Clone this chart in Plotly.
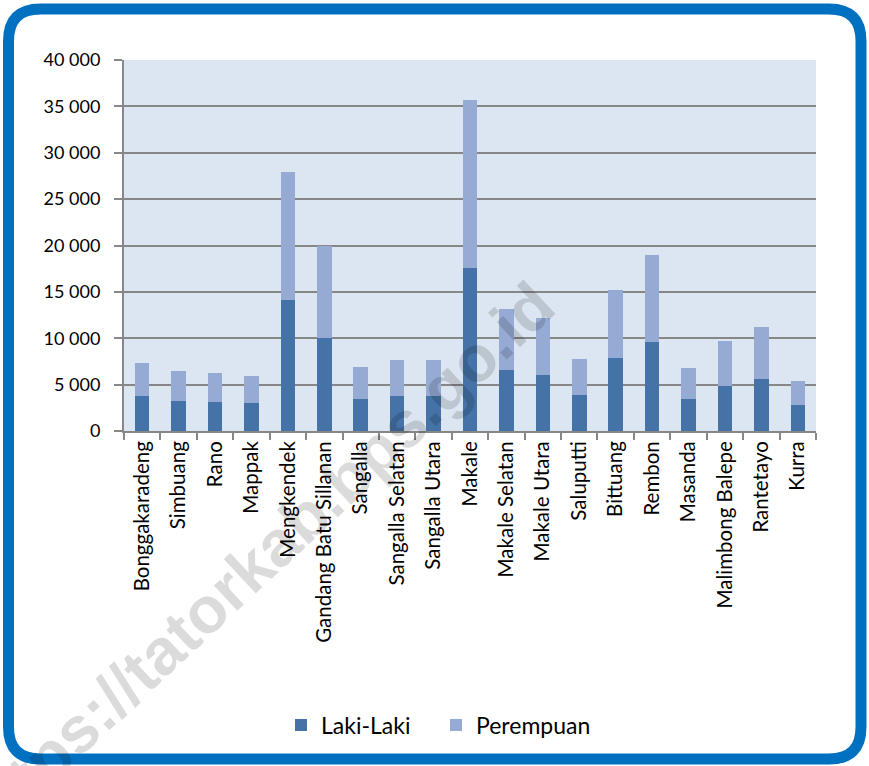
import plotly.graph_objects as go

# data
kecamatan = ['Bonggakaradeng', 'Simbuang', 'Rano', 'Mappak', 'Mengkendek',
             'Gandang Batu Sillanan', 'Sangalla', 'Sangalla Selatan', 'Sangalla Utara',
             'Makale', 'Makale Selatan', 'Makale Utara', 'Saluputti', 'Bittuang',
             'Rembon', 'Masanda', 'Malimbong Balepe', 'Rantetayo', 'Kurra']
laki_laki = [3770, 3230, 3130, 3020, 14090, 9990, 3450, 3770, 3770,
             17570, 6580, 6040, 3850, 7870, 9600, 3450, 4850, 5610, 2800]
perempuan = [3560, 3210, 3160, 2910, 13870, 9990, 3450, 3890, 3880,
             18080, 6540, 6180, 3880, 7330, 9380, 3310, 4890, 5600, 2590]
y_ticks = [0, 5000, 10000, 15000, 20000, 25000, 30000, 35000, 40000]

W, H = 869, 766
L, R, T, B = 124, 816, 60, 431   # plot area in pixels

def px(x):
    return (x - L) / (R - L)

def py(y):
    return (B - y) / (B - T)

def rounded_rect(x0, y0, x1, y1, r):
    return (f"M {px(x0 + r)} {py(y0)} L {px(x1 - r)} {py(y0)} "
            f"Q {px(x1)} {py(y0)} {px(x1)} {py(y0 + r)} "
            f"L {px(x1)} {py(y1 - r)} "
            f"Q {px(x1)} {py(y1)} {px(x1 - r)} {py(y1)} "
            f"L {px(x0 + r)} {py(y1)} "
            f"Q {px(x0)} {py(y1)} {px(x0)} {py(y1 - r)} "
            f"L {px(x0)} {py(y0 + r)} "
            f"Q {px(x0)} {py(y0)} {px(x0 + r)} {py(y0)} Z")

colors = {'laki': '#4572a7', 'perempuan': '#95abd3', 'grid': '#878787'}
label_font = "Lato, 'Open Sans', sans-serif"

fig = go.Figure()
fig.add_trace(go.Bar(x=kecamatan, y=laki_laki, name='Laki-Laki',
                     marker=dict(color=colors['laki'], line_width=0)))
fig.add_trace(go.Bar(x=kecamatan, y=perempuan, name='Perempuan',
                     marker=dict(color=colors['perempuan'], line_width=0)))

fig.update_layout(
    width=W, height=H,
    barmode='stack', bargap=0.6,
    separators='. ',
    paper_bgcolor='white',
    plot_bgcolor='#dce6f2',
    margin=dict(l=L, r=W - R, t=T, b=H - B, autoexpand=False),
    font=dict(family=label_font, color='black'),
    showlegend=True,
    legend=dict(orientation='h', x=px(436), y=py(725), xanchor='center',
                yanchor='middle', font=dict(size=23), itemwidth=30,
                entrywidth=110, traceorder='normal', bgcolor='rgba(0,0,0,0)'),
    xaxis=dict(tickangle=-90, tickfont=dict(size=20.5), ticks='outside',
               tickson='boundaries', ticklen=7, tickcolor=colors['grid'],
               tickwidth=2, showline=True, linecolor=colors['grid'],
               linewidth=2, showgrid=False),
    yaxis=dict(range=[0, 40000], tickvals=y_ticks, tickformat=',',
               tickfont=dict(size=18), ticks='outside', ticklen=8,
               ticklabelstandoff=10,
               tickcolor=colors['grid'], tickwidth=2, showline=True,
               linecolor=colors['grid'], linewidth=2, showgrid=True,
               gridcolor=colors['grid'], gridwidth=2, zeroline=False),
)

# blue rounded frame
fig.add_shape(type='path', xref='paper', yref='paper',
              path=rounded_rect(8.5, 9, 861, 759, 32),
              line=dict(color='#0070c0', width=11), fillcolor='rgba(0,0,0,0)')

# watermark
fig.add_annotation(text='<b>https://tatorkab.bps.go.id</b>', xref='paper', yref='paper',
                   x=px(258), y=py(560), xanchor='center', yanchor='middle',
                   textangle=-43, showarrow=False,
                   font=dict(family='Arial, Liberation Sans, sans-serif', size=65,
                             color='rgba(0,0,0,0.14)'))

fig.write_html("out.html", config={'displayModeBar': False},
               post_script="document.body.style.margin='0';")
